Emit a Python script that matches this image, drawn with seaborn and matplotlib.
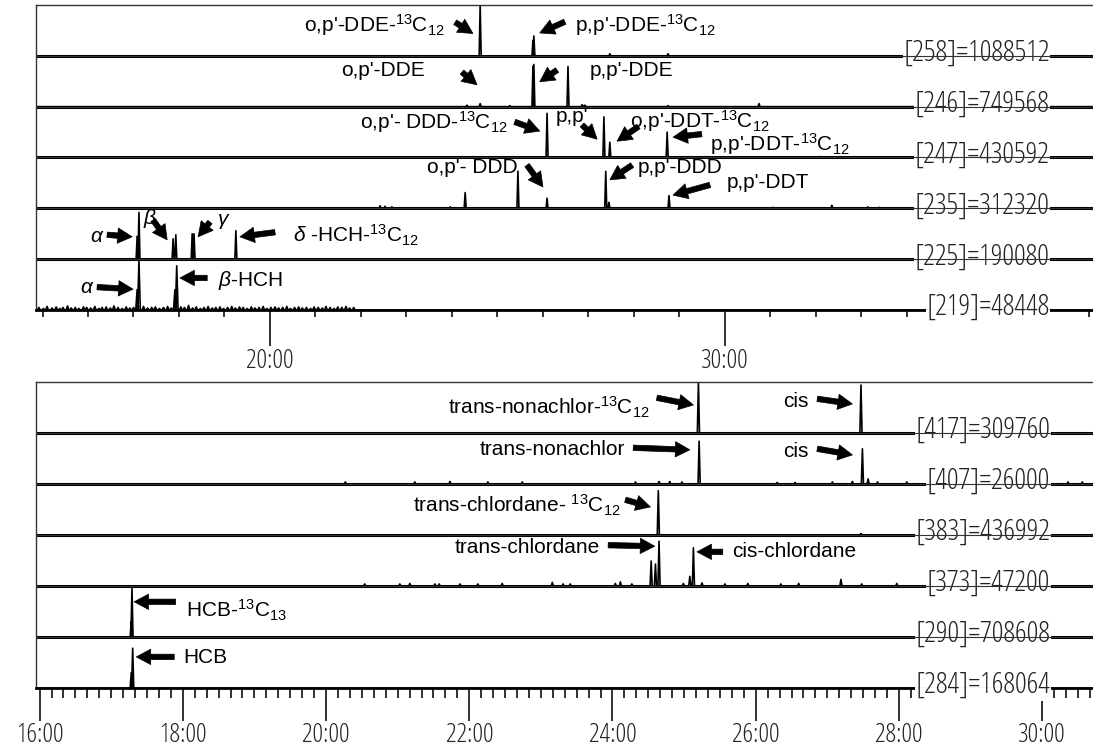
"""
plot.py
Two stacked SIM chromatogram panels (DDT/HCH group on top, chlordane/HCB group below).
"""

import numpy as np
import pandas as pd
import matplotlib
matplotlib.use("Agg")
import matplotlib.pyplot as plt
import seaborn as sns
from matplotlib import font_manager
from matplotlib.font_manager import FontProperties
from matplotlib.ticker import FixedLocator, MultipleLocator

# ── Data: top panel (retention time in min, peak height as fraction of strip) ──
top_mz = ["[258]=1088512", "[246]=749568", "[247]=430592",
          "[235]=312320", "[225]=190080", "[219]=48448"]

peaks_258_t = [24.62, 25.78, 25.80, 27.47, 28.75]
peaks_258_h = [1.00, 0.30, 0.39, 0.04, 0.04]

peaks_246_t = [24.33, 24.62, 25.27, 25.78, 25.80, 26.55, 26.86, 26.92, 28.75, 30.75]
peaks_246_h = [0.03, 0.06, 0.02, 0.80, 0.83, 0.79, 0.04, 0.03, 0.02, 0.06]

peaks_247_t = [26.09, 27.34, 27.47, 28.73, 32.09]
peaks_247_h = [0.87, 0.80, 0.30, 0.50, 0.02]

peaks_235_t = [22.42, 22.53, 22.68, 23.96, 24.29, 25.45, 26.09, 27.38, 27.45,
               28.77, 31.05, 32.35, 33.14, 33.40]
peaks_235_h = [0.05, 0.04, 0.03, 0.03, 0.31, 0.73, 0.20, 0.73, 0.12,
               0.25, 0.02, 0.06, 0.03, 0.02]

peaks_225_t = [17.08, 17.12, 17.87, 17.93, 18.29, 18.33, 19.25]
peaks_225_h = [0.45, 0.92, 0.40, 0.48, 0.50, 0.50, 0.56]

peaks_219_t = [17.08, 17.12, 17.91, 17.95]
peaks_219_h = [0.40, 0.96, 0.40, 0.87]
noise_219_t = [14.92, 15.02, 15.10, 15.21, 15.30, 15.38, 15.45, 15.55, 15.63, 15.72,
               15.80, 15.90, 15.97, 16.06, 16.15, 16.24, 16.31, 16.40, 16.49, 16.57,
               16.66, 16.75, 16.84, 16.92, 17.00, 17.22, 17.31, 17.40, 17.48, 17.57,
               17.66, 17.75, 17.83, 18.04, 18.12, 18.21, 18.30, 18.38, 18.47, 18.55,
               18.64, 18.73, 18.81, 18.90, 18.98, 19.07, 19.16, 19.24, 19.33, 19.41,
               19.50, 19.59, 19.67, 19.76, 19.85, 19.93, 20.02, 20.11, 20.19, 20.28,
               20.37, 20.45, 20.54, 20.63, 20.71, 20.80, 20.89, 20.97, 21.06, 21.15,
               21.23, 21.32, 21.41, 21.49, 21.58, 21.67, 21.75, 21.84]
noise_219_h = [0.05, 0.03, 0.07, 0.04, 0.06, 0.03, 0.05, 0.08, 0.04, 0.05,
               0.03, 0.06, 0.05, 0.04, 0.07, 0.03, 0.05, 0.06, 0.04, 0.08,
               0.05, 0.03, 0.06, 0.04, 0.05, 0.07, 0.04, 0.05, 0.06, 0.03,
               0.05, 0.07, 0.04, 0.06, 0.05, 0.09, 0.04, 0.06, 0.03, 0.05,
               0.07, 0.04, 0.05, 0.06, 0.03, 0.05, 0.07, 0.04, 0.06, 0.05,
               0.03, 0.06, 0.04, 0.05, 0.07, 0.03, 0.05, 0.06, 0.04, 0.05,
               0.07, 0.03, 0.05, 0.06, 0.04, 0.05, 0.03, 0.06, 0.05, 0.04,
               0.07, 0.05, 0.03, 0.06, 0.05, 0.07, 0.04, 0.05]

# ── Data: bottom panel ──
bot_mz = ["[417]=309760", "[407]=26000", "[383]=436992",
          "[373]=47200", "[290]=708608", "[284]=168064"]

peaks_417_t = [25.20, 27.47]
peaks_417_h = [1.00, 0.94]

peaks_407_t = [20.27, 21.24, 21.73, 22.26, 22.74, 24.32, 24.65, 24.80, 24.97, 25.21,
               26.30, 26.55, 27.07, 27.35, 27.49, 27.57, 27.70, 28.11, 30.36, 30.56]
peaks_407_h = [0.04, 0.04, 0.05, 0.04, 0.04, 0.04, 0.05, 0.05, 0.04, 0.84,
               0.03, 0.03, 0.04, 0.05, 0.69, 0.10, 0.04, 0.04, 0.04, 0.04]

peaks_383_t = [24.64, 27.47]
peaks_383_h = [0.87, 0.03]

peaks_373_t = [20.54, 21.03, 21.17, 21.52, 21.58, 21.87, 22.12, 22.46, 23.16, 23.31,
               23.41, 24.04, 24.11, 24.27, 24.54, 24.60, 24.65, 24.99, 25.08, 25.13,
               25.25, 25.57, 25.89, 26.35, 26.60, 27.19, 27.48, 27.97]
peaks_373_h = [0.04, 0.04, 0.05, 0.04, 0.04, 0.04, 0.04, 0.05, 0.07, 0.04,
               0.04, 0.05, 0.08, 0.04, 0.49, 0.43, 0.88, 0.05, 0.19, 0.75,
               0.06, 0.04, 0.05, 0.04, 0.05, 0.13, 0.04, 0.05]

peaks_290_t = [17.28, 17.29]
peaks_290_h = [0.30, 0.96]

peaks_284_t = [17.28, 17.30]
peaks_284_h = [0.30, 0.78]

top_ticks = [20, 30]
top_tick_labels = ["20:00", "30:00"]
bot_ticks = [16, 18, 20, 22, 24, 26, 28, 30]
bot_tick_labels = ["16:00", "18:00", "20:00", "22:00", "24:00", "26:00", "28:00", "30:00"]

# ── Fonts ──────────────────────────────────────────────────────────────────
sns.set_style("white")
plt.rcParams["font.family"] = ["Liberation Sans", "DejaVu Sans"]
plt.rcParams["mathtext.fontset"] = "custom"
plt.rcParams["mathtext.rm"] = "Liberation Sans"
plt.rcParams["mathtext.it"] = "Liberation Sans:italic"
LABEL_SIZE = 15


def narrow_font(size):
    # the instrument printout uses a tall condensed face; take the closest installed
    fonts = font_manager.fontManager.ttflist
    for f in fonts:
        if f.name == "Liberation Sans Narrow" and f.style == "normal" and f.weight in (400, "normal", "regular"):
            return FontProperties(fname=f.fname, size=size)
    squeezed = {"ultra-condensed": 0, "extra-condensed": 1, "condensed": 2, "semi-condensed": 3}
    pref = {"Noto Sans": 0, "Open Sans": 1, "Roboto": 2, "DejaVu Sans": 3}
    cands = [f for f in fonts if f.stretch in squeezed and f.style == "normal"
             and str(f.weight) in ("300", "400", "normal", "regular", "light")]
    if cands:
        cands.sort(key=lambda f: (abs(squeezed[f.stretch] - 2.6), pref.get(f.name, 9),
                                  0 if str(f.weight) in ("300", "light") else 1))
        return FontProperties(fname=cands[0].fname, size=size)
    return FontProperties(family="DejaVu Sans", size=size - 5)


NARROW = narrow_font(19)
NARROW_MZ = narrow_font(21)


def trace_frame(name, offset, times, heights, x0, x1, w):
    pts = [(x0, offset)]
    for t, h in sorted(zip(times, heights)):
        pts += [(t - w, offset), (t, offset + h), (t + w, offset)]
    pts.append((x1, offset))
    df = pd.DataFrame(pts, columns=["time", "signal"])
    df["trace"] = name
    return df


def draw_panel(ax, frames, mz_labels, xlim, label_x):
    data = pd.concat(frames, ignore_index=True)
    sns.lineplot(data=data, x="time", y="signal", units="trace", estimator=None,
                 sort=False, color="black", lw=1.2, ax=ax, legend=False)
    ax.set_xlim(*xlim)
    ax.set_ylim(0, 6)
    for k in range(1, 6):
        ax.axhline(k, color="black", lw=2.2, zorder=1)
    for k in range(0, 6):
        ax.axhline(k, color="#333333", lw=0.8, zorder=6)
    for k, lab in enumerate(mz_labels):
        ax.text(label_x, 5 - k + 0.05, lab, ha="right", va="center",
                fontproperties=NARROW_MZ, color="#222222", zorder=5,
                bbox=dict(fc="white", ec="none", pad=0.5))
    ax.set_xlabel("")
    ax.set_ylabel("")
    ax.set_yticks([])
    ax.spines["right"].set_visible(False)
    for s in ("top", "left"):
        ax.spines[s].set_linewidth(1.0)
        ax.spines[s].set_color("#333333")
    ax.spines["bottom"].set_linewidth(2.0)
    ax.spines["bottom"].set_color("black")


def label(ax, text, x, y, ha="left"):
    ax.text(x, y, text, ha=ha, va="center", fontsize=LABEL_SIZE, color="black",
            zorder=7)


def arrow(ax, tail, tip):
    ax.annotate("", xy=tip, xytext=tail, zorder=7,
                arrowprops=dict(arrowstyle="simple,head_length=0.8,head_width=0.85,tail_width=0.3",
                                mutation_scale=13, fc="black", ec="black", lw=0.5,
                                shrinkA=0, shrinkB=0))


fig = plt.figure(figsize=(10.93, 7.48), dpi=100)
W, H = 1093, 748

# ── Top panel ──────────────────────────────────────────────────────────────
ax1 = fig.add_axes([36 / W, 1 - 310 / H, 1 - 36 / W, 305 / H])
x0, x1 = 14.857, 38.09
top_frames = [
    trace_frame("258", 5, peaks_258_t, peaks_258_h, x0, x1, 0.022),
    trace_frame("246", 4, peaks_246_t, peaks_246_h, x0, x1, 0.022),
    trace_frame("247", 3, peaks_247_t, peaks_247_h, x0, x1, 0.022),
    trace_frame("235", 2, peaks_235_t, peaks_235_h, x0, x1, 0.022),
    trace_frame("225", 1, peaks_225_t, peaks_225_h, x0, x1, 0.022),
    trace_frame("219", 0, peaks_219_t + noise_219_t, peaks_219_h + noise_219_h, x0, x1, 0.03),
]
draw_panel(ax1, top_frames, top_mz, (x0, x1), 37.14)
ax1.xaxis.set_major_locator(FixedLocator(top_ticks))
ax1.set_xticklabels(top_tick_labels, fontproperties=NARROW, color="#222222")
ax1.xaxis.set_minor_locator(MultipleLocator(1))
ax1.tick_params(axis="x", which="major", direction="out", length=26, width=1.3,
                color="#222222", pad=2, bottom=True)
ax1.tick_params(axis="x", which="minor", direction="out", length=5, width=1.3,
                color="#222222", bottom=True)

for txt, tx, ty, ha, tail, tip in [
    (r"o,p'-DDE-$^{13}$C$_{12}$", 23.85, 5.61, "right", (24.07, 5.66), (24.46, 5.44)),
    (r"p,p'-DDE-$^{13}$C$_{12}$", 26.70, 5.61, "left", (26.48, 5.67), (25.93, 5.45)),
    (r"o,p'-DDE", 23.41, 4.72, "right", (24.22, 4.68), (24.55, 4.43)),
    (r"p,p'-DDE", 27.03, 4.72, "left", (26.31, 4.72), (25.93, 4.49)),
    (r"o,p'- DDD-$^{13}$C$_{12}$", 25.23, 3.70, "right", (25.38, 3.70), (25.93, 3.52)),
    (r"p,p'", 26.29, 3.80, "left", (26.86, 3.64), (27.19, 3.36)),
    (r"o,p'-DDT-$^{13}$C$_{12}$", 27.91, 3.72, "left", (28.10, 3.61), (27.63, 3.32)),
    (r"p,p'-DDT-$^{13}$C$_{12}$", 29.67, 3.26, "left", (29.49, 3.46), (28.86, 3.40)),
    (r"o,p'- DDD", 25.45, 2.81, "right", (25.65, 2.85), (26.00, 2.42)),
    (r"p,p'-DDD", 28.09, 2.81, "left", (27.96, 2.85), (27.47, 2.56)),
    (r"p,p'-DDT", 30.04, 2.50, "left", (29.67, 2.46), (28.86, 2.26)),
    (r"$\alpha$", 16.20, 1.44, "center", (16.42, 1.48), (16.97, 1.44)),
    (r"$\beta$", 17.36, 1.80, "center", (17.43, 1.77), (17.74, 1.38)),
    (r"$\gamma$", 18.99, 1.75, "center", (18.68, 1.73), (18.42, 1.44)),
    (r"$\delta$ -HCH-$^{13}$C$_{12}$", 20.51, 1.46, "left", (20.11, 1.53), (19.34, 1.44)),
    (r"$\alpha$", 15.98, 0.45, "center", (16.20, 0.45), (16.99, 0.41)),
    (r"$\beta$-HCH", 18.86, 0.59, "left", (18.62, 0.63), (18.02, 0.63)),
]:
    label(ax1, txt, tx, ty, ha)
    arrow(ax1, tail, tip)

# ── Bottom panel ───────────────────────────────────────────────────────────
ax2 = fig.add_axes([36 / W, 1 - 688 / H, 1 - 36 / W, 306 / H])
b0, b1 = 15.95, 30.71
bot_frames = [
    trace_frame("417", 5, peaks_417_t, peaks_417_h, b0, b1, 0.015),
    trace_frame("407", 4, peaks_407_t, peaks_407_h, b0, b1, 0.015),
    trace_frame("383", 3, peaks_383_t, peaks_383_h, b0, b1, 0.015),
    trace_frame("373", 2, peaks_373_t, peaks_373_h, b0, b1, 0.015),
    trace_frame("290", 1, peaks_290_t, peaks_290_h, b0, b1, 0.015),
    trace_frame("284", 0, peaks_284_t, peaks_284_h, b0, b1, 0.015),
]
draw_panel(ax2, bot_frames, bot_mz, (b0, b1), 30.11)
ax2.xaxis.set_major_locator(FixedLocator(bot_ticks))
ax2.set_xticklabels(bot_tick_labels, fontproperties=NARROW, color="#222222")
ax2.xaxis.set_minor_locator(MultipleLocator(1 / 6))
ax2.tick_params(axis="x", which="major", direction="out", length=24, width=1.3,
                color="#222222", pad=1, bottom=True)
ax2.tick_params(axis="x", which="minor", direction="out", length=7, width=1.3,
                color="#222222", bottom=True)

for txt, tx, ty, ha, tail, tip in [
    (r"trans-nonachlor-$^{13}$C$_{12}$", 24.52, 5.51, "right", (24.62, 5.69), (25.13, 5.55)),
    (r"cis", 26.38, 5.61, "left", (26.86, 5.67), (27.35, 5.57)),
    (r"trans-nonachlor", 24.18, 4.67, "right", (24.29, 4.71), (25.08, 4.67)),
    (r"cis", 26.38, 4.63, "left", (26.86, 4.69), (27.35, 4.57)),
    (r"trans-chlordane- $^{13}$C$_{12}$", 24.11, 3.59, "right", (24.18, 3.69), (24.53, 3.55)),
    (r"trans-chlordane", 23.83, 2.75, "right", (23.94, 2.80), (24.59, 2.78)),
    (r"cis-chlordane", 25.67, 2.67, "left", (25.54, 2.67), (25.18, 2.67)),
    (r"HCB-$^{13}$C$_{13}$", 18.04, 1.53, "left", (17.90, 1.69), (17.32, 1.69)),
    (r"HCB", 18.00, 0.59, "left", (17.88, 0.61), (17.35, 0.61)),
]:
    label(ax2, txt, tx, ty, ha)
    arrow(ax2, tail, tip)

fig.savefig("out.png", dpi=100)
plt.close(fig)
